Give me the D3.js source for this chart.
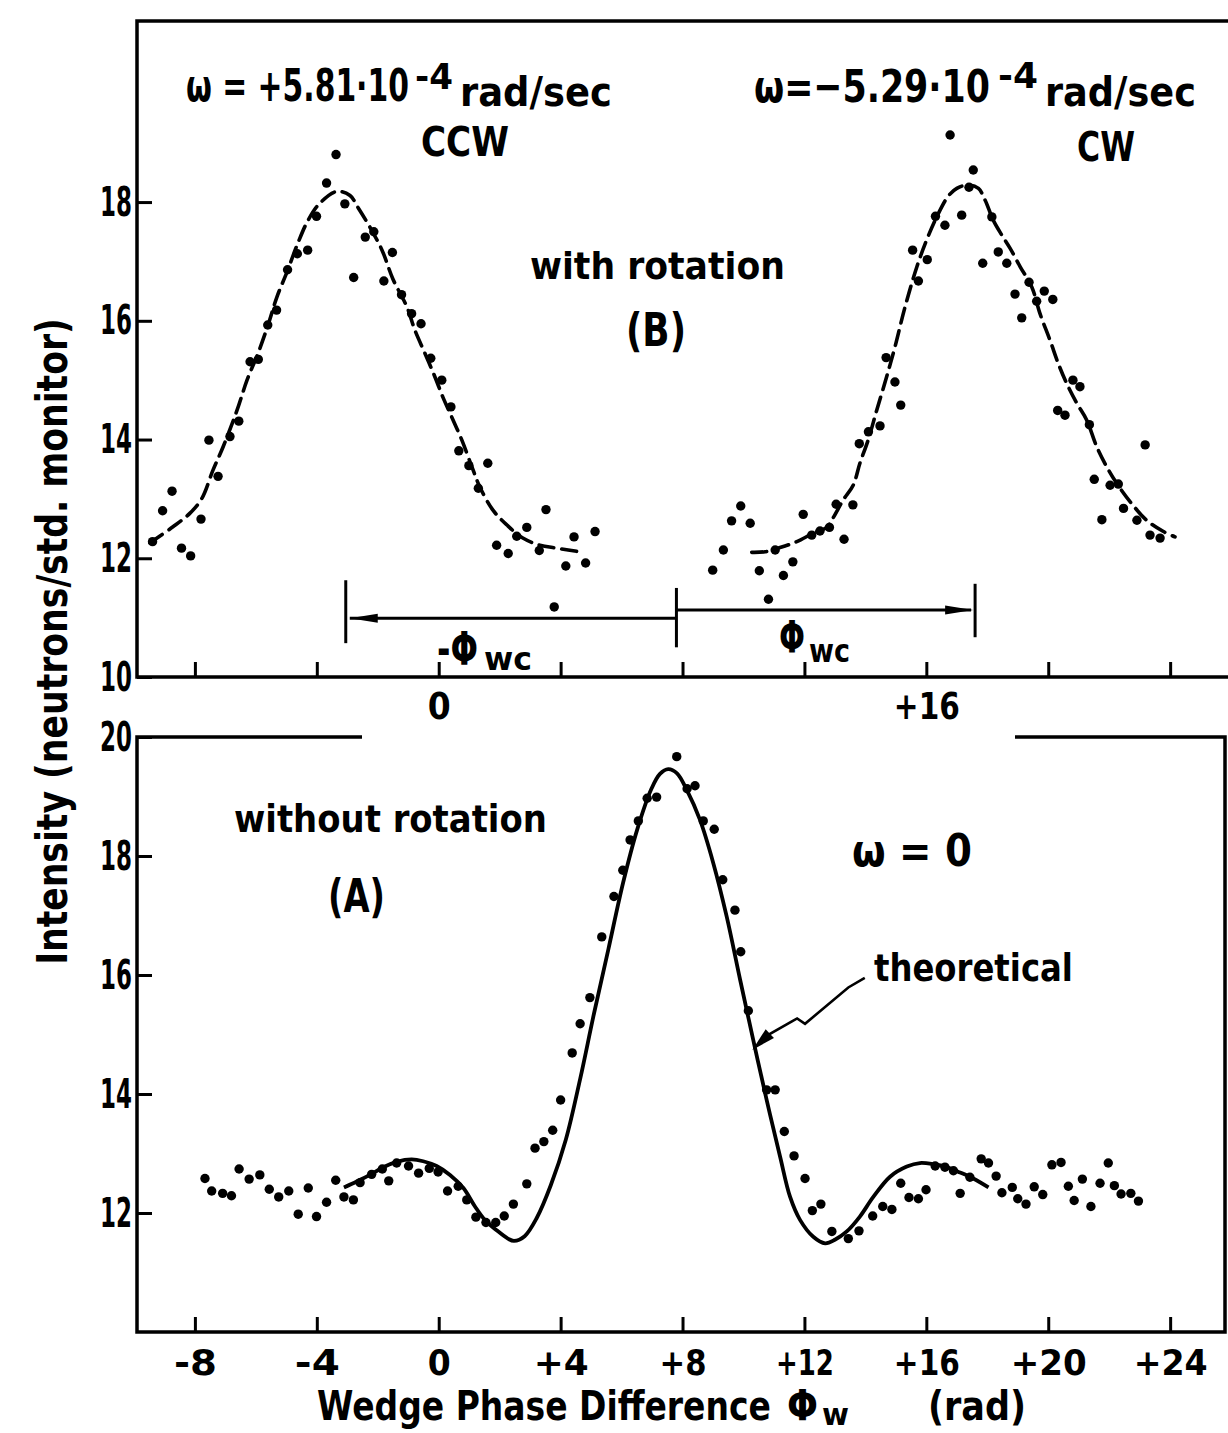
<!DOCTYPE html>
<html>
<head>
<meta charset="utf-8">
<script src="https://cdn.jsdelivr.net/npm/d3@7"></script>
<style>
  body { margin: 0; background: #fff; }
  svg { display: block; }
  text { font-family: "DejaVu Sans", sans-serif; font-weight: bold; fill: #000; }
</style>
</head>
<body>
<svg id="chart" width="1228" height="1433"></svg>
<script>
// ---- data (phase in rad, intensity in neutrons / std. monitor) ----

// (B) with rotation, CCW  omega = +5.81e-4 rad/sec
const ccwPhase  = [-9.39,-9.06,-8.75,-8.44,-8.14,-7.80,-7.54,-7.24,-6.85,-6.56,-6.19,-5.92,-5.61,-5.32,-4.96,-4.64,-4.30,-4.01,-3.68,-3.37,-3.08,-2.79,-2.41,-2.13,-1.80,-1.52,-1.22,-0.89,-0.58,-0.26,0.10,0.40,0.66,0.99,1.30,1.61,1.90,2.28,2.56,2.89,3.30,3.52,3.79,4.17,4.44,4.82,5.13];
const ccwCounts = [12.28,12.80,13.13,12.17,12.04,12.66,13.99,13.38,14.05,14.31,15.31,15.35,15.93,16.18,16.86,17.13,17.19,17.76,18.32,18.80,17.97,16.73,17.41,17.50,16.67,17.15,16.44,16.12,15.95,15.37,15.00,14.55,13.81,13.56,13.18,13.60,12.22,12.08,12.37,12.52,12.13,12.82,11.18,11.87,12.36,11.92,12.45];
const ccwFitPhase  = [-9.48,-8.72,-8.16,-7.77,-7.41,-7.08,-6.62,-6.29,-5.93,-5.60,-5.31,-4.98,-4.62,-4.29,-3.90,-3.34,-2.91,-2.65,-2.26,-1.86,-1.50,-1.04,-0.78,-0.45,-0.12,0.14,0.47,0.76,1.09,1.35,1.78,2.24,2.76,3.32,3.88,4.73];
const ccwFitCounts = [12.26,12.53,12.76,13.01,13.48,13.87,14.49,15.00,15.45,15.93,16.40,16.82,17.31,17.69,17.98,18.18,18.11,17.91,17.58,17.19,16.70,16.23,15.84,15.45,15.05,14.71,14.33,13.99,13.54,13.20,12.81,12.56,12.34,12.22,12.17,12.10];

// (B) with rotation, CW  omega = -5.29e-4 rad/sec
const cwPhase  = [8.99,9.34,9.61,9.91,10.22,10.52,10.82,11.04,11.31,11.62,11.96,12.24,12.51,12.82,13.04,13.30,13.59,13.80,14.10,14.48,14.68,14.97,15.16,15.55,15.74,16.03,16.30,16.61,16.78,17.16,17.40,17.54,17.85,18.15,18.36,18.64,18.91,19.13,19.37,19.62,19.87,20.15,20.31,20.55,20.81,21.04,21.35,21.51,21.76,22.03,22.30,22.47,22.91,23.18,23.34,23.67];
const cwCounts = [11.80,12.14,12.63,12.88,12.59,11.79,11.31,12.14,11.71,11.94,12.74,12.39,12.46,12.52,12.91,12.32,12.90,13.93,14.13,14.23,15.38,14.97,14.58,17.19,16.67,17.03,17.76,17.61,19.13,17.78,18.25,18.54,16.97,17.75,17.16,16.97,16.45,16.05,16.65,16.33,16.50,16.36,14.49,14.41,15.00,14.89,14.25,13.33,12.65,13.23,13.25,12.84,12.64,13.91,12.39,12.34];
const cwFitPhase  = [10.27,10.71,11.20,11.75,12.28,12.73,12.94,13.27,13.60,13.82,14.09,14.37,14.70,14.97,15.30,15.69,16.01,16.34,16.72,17.00,17.38,17.71,17.93,18.20,18.48,18.75,19.08,19.46,19.73,20.06,20.33,20.61,20.94,21.26,21.59,21.92,22.25,22.69,23.23,23.78,24.16];
const cwFitCounts = [12.10,12.11,12.18,12.28,12.42,12.52,12.68,12.98,13.23,13.60,13.99,14.49,15.06,15.56,16.23,16.91,17.36,17.75,18.10,18.23,18.29,18.23,18.03,17.69,17.44,17.22,16.91,16.57,16.12,15.67,15.28,14.94,14.61,14.33,13.88,13.54,13.26,12.95,12.64,12.45,12.36];

// (A) without rotation, omega = 0
const zeroPhase  = [-7.67,-7.45,-7.09,-6.80,-6.55,-6.22,-5.87,-5.56,-5.25,-4.92,-4.61,-4.28,-4.01,-3.68,-3.38,-3.11,-2.80,-2.58,-2.20,-1.85,-1.64,-1.38,-0.99,-0.66,-0.31,-0.02,0.29,0.64,0.92,1.22,1.55,1.87,2.15,2.45,2.89,3.16,3.45,3.74,4.00,4.38,4.64,4.96,5.35,5.75,6.04,6.28,6.55,6.84,7.15,7.81,8.15,8.41,8.68,9.04,9.32,9.72,9.91,10.16,10.76,11.04,11.34,11.66,12.02,12.26,12.54,12.90,13.44,13.79,14.24,14.57,14.87,15.16,15.43,15.74,15.99,16.29,16.61,16.89,17.11,17.43,17.80,18.04,18.29,18.48,18.82,19.00,19.27,19.54,19.82,20.12,20.42,20.66,20.85,21.12,21.40,21.70,21.97,22.17,22.39,22.71,22.96];
const zeroCounts = [12.58,12.37,12.33,12.29,12.74,12.57,12.64,12.40,12.27,12.37,11.98,12.42,11.94,12.18,12.55,12.27,12.22,12.51,12.65,12.74,12.54,12.84,12.79,12.67,12.75,12.69,12.37,12.45,12.22,11.93,11.84,11.84,11.95,12.15,12.49,13.09,13.20,13.39,13.90,14.69,15.18,15.62,16.64,17.32,17.76,18.27,18.59,18.97,18.99,19.67,19.13,19.18,18.59,18.45,17.60,17.09,16.39,15.40,14.07,14.07,13.37,12.96,12.58,12.04,12.15,11.69,11.57,11.70,11.95,12.11,12.06,12.50,12.26,12.24,12.39,12.79,12.77,12.71,12.33,12.60,12.91,12.84,12.62,12.34,12.43,12.24,12.15,12.44,12.31,12.81,12.85,12.45,12.21,12.57,12.11,12.50,12.84,12.46,12.32,12.33,12.20];
const theoryPhase  = [-3.11,-2.69,-2.26,-1.82,-1.38,-0.89,-0.51,-0.07,0.37,0.81,1.19,1.52,1.90,2.27,2.47,2.82,3.22,3.68,4.17,4.64,5.09,5.57,6.05,6.51,6.98,7.26,7.53,7.82,8.14,8.57,9.01,9.45,9.89,10.32,10.76,11.20,11.53,11.86,12.29,12.68,13.00,13.39,13.82,14.26,14.81,15.36,15.79,16.23,16.67,17.11,17.54,18.04];
const theoryCounts = [12.43,12.53,12.64,12.77,12.86,12.90,12.87,12.79,12.64,12.42,12.11,11.88,11.71,11.57,11.53,11.61,11.92,12.47,13.23,14.25,15.34,16.44,17.55,18.44,19.13,19.38,19.46,19.39,19.11,18.61,17.88,16.98,15.92,14.91,13.90,12.95,12.27,11.88,11.60,11.49,11.55,11.69,11.94,12.27,12.61,12.78,12.84,12.82,12.77,12.68,12.58,12.43];

// ticks
const xTicks      = [-8, -4, 0, 4, 8, 12, 16, 20, 24];
const xTickLabels = ['-8', '-4', '0', '+4', '+8', '+12', '+16', '+20', '+24'];
const topXLabelled = [0, 16];
const yTicksTop    = [10, 12, 14, 16, 18];
const yTicksBottom = [12, 14, 16, 18, 20];

// Phi_wc markers (peak positions, rad)
const phiMarks = [-3.05, 7.8, 17.6];

// ---- layout ----
const W = 1228, H = 1433;
const L = 137, R = 1225;
const xLabelWidth = [43, 45, 23, 55, 47, 58, 66, 76, 74];   // printed width of each x tick label
const yLabelWidth = 32;

const x    = d3.scaleLinear().domain([-9.9, 25.8]).range([L, R]);
const yTop = d3.scaleLinear().domain([10, 21.05]).range([677, 21]);
const yBot = d3.scaleLinear().domain([10, 20]).range([1332, 737]);

const svg = d3.select('#chart');
svg.append('rect').attr('width', W).attr('height', H).attr('fill', '#fff');

const zip = (a, b) => a.map((v, i) => [v, b[i]]);
const lineFor = ys => d3.line().x(d => x(d[0])).y(d => ys(d[1])).curve(d3.curveCatmullRom.alpha(0.5));

// frames
const frame = svg.append('g').attr('fill', 'none').attr('stroke', '#000')
  .attr('stroke-width', 3.5).attr('stroke-linejoin', 'miter');
frame.append('path').attr('d', `M1228,${yTop(21.05)}H${L}V${yTop(10)}H1228`);
frame.append('path').attr('d', `M362,${yBot(20)}H${L}V${yBot(10)}H${R}V${yBot(20)}H1015`);

// squeeze each tick label horizontally to the printed width
function styleAxis(g, size, widthOf) {
  g.select('.domain').remove();
  g.selectAll('.tick line').attr('stroke', '#000').attr('stroke-width', 3);
  g.attr('font-family', '"DejaVu Sans", sans-serif')
   .attr('font-size', size).attr('font-weight', 'bold');
  g.selectAll('.tick text').attr('fill', '#000').each(function(d) {
    const w0 = this.getComputedTextLength();
    if (!w0) return;
    const x0 = +d3.select(this).attr('x') || 0;
    const k = widthOf(d) / w0;
    d3.select(this).attr('transform', `translate(${x0},0) scale(${k},1) translate(${-x0},0)`);
  });
}
const xw = d => xLabelWidth[xTicks.indexOf(d)];

// top panel axes
svg.append('g').attr('transform', `translate(0,${yTop(10)})`)
  .call(d3.axisBottom(x).tickValues(xTicks).tickSize(-15).tickPadding(15)
    .tickFormat((d, i) => topXLabelled.includes(d) ? xTickLabels[i] : ''))
  .call(g => styleAxis(g, 38, xw));
svg.append('g').attr('transform', `translate(${L},0)`)
  .call(d3.axisLeft(yTop).tickValues(yTicksTop).tickSize(-15).tickPadding(5).tickFormat(d3.format('d')))
  .call(g => styleAxis(g, 41, () => yLabelWidth));

// bottom panel axes
svg.append('g').attr('transform', `translate(0,${yBot(10)})`)
  .call(d3.axisBottom(x).tickValues(xTicks).tickSize(-15).tickPadding(17)
    .tickFormat((d, i) => xTickLabels[i]))
  .call(g => styleAxis(g, 36, xw));
svg.append('g').attr('transform', `translate(${L},0)`)
  .call(d3.axisLeft(yBot).tickValues(yTicksBottom).tickSize(-15).tickPadding(5).tickFormat(d3.format('d')))
  .call(g => styleAxis(g, 41, () => yLabelWidth));

// fitted curves (B), dashed
[[ccwFitPhase, ccwFitCounts], [cwFitPhase, cwFitCounts]].forEach(([p, c]) => {
  svg.append('path').datum(zip(p, c))
    .attr('d', lineFor(yTop)).attr('fill', 'none').attr('stroke', '#000')
    .attr('stroke-width', 3.6).attr('stroke-dasharray', '15,8').attr('stroke-linecap', 'round');
});

// theoretical curve (A), solid
svg.append('path').datum(zip(theoryPhase, theoryCounts))
  .attr('d', lineFor(yBot)).attr('fill', 'none').attr('stroke', '#000').attr('stroke-width', 3.8);

// data points
function dots(p, c, ys) {
  svg.append('g').selectAll('circle').data(zip(p, c)).join('circle')
    .attr('cx', d => x(d[0])).attr('cy', d => ys(d[1])).attr('r', 4.7).attr('fill', '#000');
}
dots(ccwPhase, ccwCounts, yTop);
dots(cwPhase, cwCounts, yTop);
dots(zeroPhase, zeroCounts, yBot);

// arrowhead helper: tip at (tx,ty), coming from (fx,fy)
function head(g, fx, fy, tx, ty, len, half) {
  const a = Math.atan2(ty - fy, tx - fx);
  const bx = tx - len * Math.cos(a), by = ty - len * Math.sin(a);
  const nx = -Math.sin(a) * half, ny = Math.cos(a) * half;
  g.append('path').attr('d', `M${tx},${ty}L${bx + nx},${by + ny}L${bx - nx},${by - ny}Z`)
    .attr('fill', '#000').attr('stroke', 'none');
}

// Phi_wc separation arrows
const ann = svg.append('g').attr('stroke', '#000').attr('stroke-width', 3).attr('fill', 'none');
const [pl, pm, pr] = phiMarks.map(x);
ann.append('line').attr('x1', pl).attr('x2', pl).attr('y1', yTop(11.63)).attr('y2', yTop(10.57));
ann.append('line').attr('x1', pm).attr('x2', pm).attr('y1', yTop(11.5)).attr('y2', yTop(10.5));
ann.append('line').attr('x1', pr).attr('x2', pr).attr('y1', yTop(11.57)).attr('y2', yTop(10.67));
ann.append('line').attr('x1', pm).attr('x2', pl + 4).attr('y1', yTop(10.99)).attr('y2', yTop(10.99));
ann.append('line').attr('x1', pm).attr('x2', pr - 4).attr('y1', yTop(11.13)).attr('y2', yTop(11.13));
head(ann, pm, yTop(10.99), pl + 4, yTop(10.99), 28, 4.5);
head(ann, pm, yTop(11.13), pr - 2, yTop(11.13), 28, 4.5);

// "theoretical" pointer
const pointer = [[13.98, 15.95], [13.44, 15.79], [12.02, 15.18], [11.76, 15.27], [11.59, 15.22], [10.83, 15.0], [10.29, 14.74]];
const pp = pointer.map(d => [x(d[0]), yBot(d[1])]);
ann.append('path').attr('d', d3.line()(pp.slice(0, -1).concat([[pp[pp.length - 1][0] + 8, pp[pp.length - 1][1] - 7]])))
  .attr('stroke-width', 2.6);
head(ann, pp[pp.length - 2][0], pp[pp.length - 2][1], pp[pp.length - 1][0], pp[pp.length - 1][1], 24, 6);

// text annotations (pixel layout: left x, baseline y, font size, printed width)
const notes = [
  { t: 'ω = +5.81·10', x: 186, y: 101, s: 45, w: 223 },
  { t: '-4', x: 415, y: 89, s: 36, w: 38 },
  { t: 'rad/sec', x: 460, y: 106, s: 41, w: 152 },
  { t: 'CCW', x: 421, y: 156, s: 40, w: 88 },
  { t: 'ω=−5.29·10', x: 754, y: 102, s: 45, w: 236 },
  { t: '-4', x: 998, y: 88, s: 36, w: 40 },
  { t: 'rad/sec', x: 1045, y: 106, s: 41, w: 151 },
  { t: 'CW', x: 1077, y: 161, s: 40, w: 58 },
  { t: 'with rotation', x: 530, y: 279, s: 37, w: 255 },
  { t: '(B)', x: 626, y: 346, s: 46, w: 60 },
  { t: '-Φ', x: 437, y: 665, s: 46, w: 41 },
  { t: 'wc', x: 484, y: 670, s: 32, w: 48 },
  { t: 'Φ', x: 779, y: 653, s: 44, w: 26 },
  { t: 'wc', x: 809, y: 662, s: 32, w: 41 },
  { t: 'without rotation', x: 234, y: 832, s: 37, w: 313 },
  { t: '(A)', x: 328, y: 912, s: 47, w: 57 },
  { t: 'ω = 0', x: 852, y: 866, s: 44, w: 120 },
  { t: 'theoretical', x: 874, y: 981, s: 37, w: 199 },
  { t: 'Wedge Phase Difference', x: 317, y: 1420, s: 41, w: 454 },
  { t: 'Φ', x: 787, y: 1420, s: 43, w: 31 },
  { t: 'w', x: 822, y: 1425, s: 30, w: 27 },
  { t: '(rad)', x: 928, y: 1420, s: 41, w: 98 }
];
svg.append('g').selectAll('text').data(notes).join('text')
  .attr('font-size', d => d.s)
  .text(d => d.t)
  .each(function(d) {
    const k = d.w / this.getComputedTextLength();
    d3.select(this).attr('transform', `translate(${d.x},${d.y}) scale(${k},1)`);
  });

// y axis title
const yTitle = svg.append('text')
  .attr('text-anchor', 'middle').attr('font-size', 42)
  .text('Intensity  (neutrons/std. monitor)');
yTitle.attr('transform', `translate(67,641.5) rotate(-90) scale(${647 / yTitle.node().getComputedTextLength()},1)`);
</script>
</body>
</html>
